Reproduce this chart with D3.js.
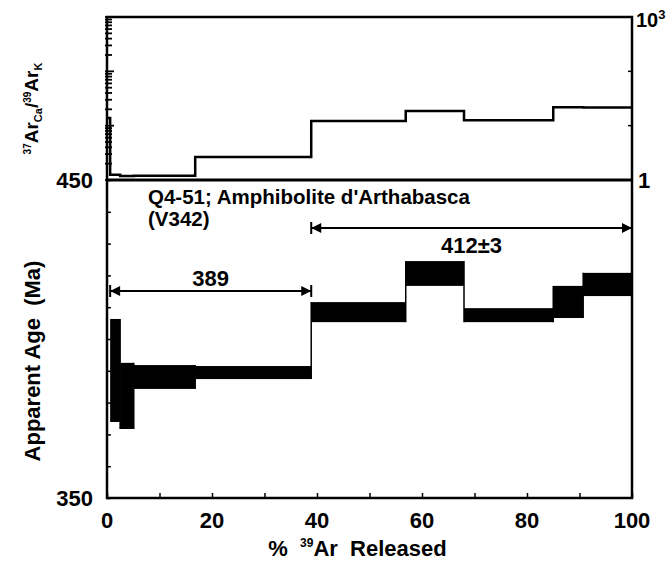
<!DOCTYPE html>
<html>
<head>
<meta charset="utf-8">
<script src="https://cdn.jsdelivr.net/npm/d3@7"></script>
<style>
body { margin:0; background:#fff; }
text { font-family: "Liberation Sans", Arial, sans-serif; font-weight: bold; fill:#000; }
</style>
</head>
<body>
<div id="chart"></div>
<script>
// step boundaries, % 39Ar released
var stepEdges = [0, 0.6, 2.5, 5.1, 16.8, 38.9, 56.9, 68, 85, 90.7, 100];
// 37ArCa/39ArK per step
var caK = [13.8, 1.25, 1.18, 1.2, 2.65, 12.2, 18.7, 12.6, 21.8, 21.6];
// apparent age boxes (Ma), low / high; first step off scale
var ageLo = [null, 373.9, 371.7, 384.3, 387.4, 405.3, 416.7, 405.3, 406.6, 413.5];
var ageHi = [null, 406.3, 392.5, 391.8, 391.5, 411.6, 424.5, 409.7, 416.7, 420.8];
var xTicks = [0, 20, 40, 60, 80, 100];
var plateaus = [
    {from: 0.6, to: 38.9, label: '389'},
    {from: 38.9, to: 100, label: '412\u00b13'}
];

var svgSize = {width: 672, height: 570};
var left = 107, right = 632, top1 = 17, mid = 180, bottom = 498;

var svg = d3.select('#chart').append('svg')
    .attr('width', svgSize.width)
    .attr('height', svgSize.height);

var x = d3.scaleLinear().domain([0, 100]).range([left, right]);
var yAge = d3.scaleLinear().domain([350, 450]).range([bottom, mid]);
var yRat = d3.scaleLog().domain([1, 1000]).range([mid, top1]);

// --- top panel: Ca/K step line
var steps = [];
caK.forEach(function(v, i) {
    steps.push([stepEdges[i], v]);
    steps.push([stepEdges[i + 1], v]);
});
svg.append('path')
    .datum(steps)
    .attr('fill', 'none')
    .attr('stroke', '#000')
    .attr('stroke-width', 2.5)
    .attr('d', d3.line().x(function(d) { return x(d[0]); }).y(function(d) { return yRat(d[1]); }));

// --- bottom panel: age boxes
var boxes = [];
ageLo.forEach(function(lo, i) {
    if (lo != null) boxes.push({x0: stepEdges[i], x1: stepEdges[i + 1], lo: lo, hi: ageHi[i]});
});
svg.append('g').selectAll('rect')
    .data(boxes)
    .enter()
    .append('rect')
    .attr('x', function(d) { return x(d.x0); })
    .attr('width', function(d) { return x(d.x1) - x(d.x0); })
    .attr('y', function(d) { return yAge(d.hi); })
    .attr('height', function(d) { return yAge(d.lo) - yAge(d.hi); })
    .attr('fill', '#000');

// connectors between boxes
for (var i = 0; i < boxes.length - 1; i++) {
    var a = boxes[i], b = boxes[i + 1];
    var ys = [a.lo, a.hi, b.lo, b.hi];
    svg.append('line')
        .attr('x1', x(b.x0)).attr('x2', x(b.x0))
        .attr('y1', yAge(d3.min(ys))).attr('y2', yAge(d3.max(ys)))
        .attr('stroke', '#000').attr('stroke-width', 1.5);
}

// --- frames
svg.append('rect')
    .attr('x', left).attr('y', top1)
    .attr('width', right - left).attr('height', bottom - top1)
    .attr('fill', 'none').attr('stroke', '#000').attr('stroke-width', 2.5);
svg.append('line')
    .attr('x1', left).attr('x2', right)
    .attr('y1', mid).attr('y2', mid)
    .attr('stroke', '#000').attr('stroke-width', 3);

// --- axes
var gx = svg.append('g').attr('transform', 'translate(0,' + bottom + ')')
    .call(d3.axisTop(x).tickValues(d3.range(0, 101, 10)).tickSize(5).tickFormat(''));
gx.select('.domain').remove();
gx.selectAll('line').attr('stroke-width', 1.5);
xTicks.forEach(function(t) {
    svg.append('text')
        .attr('x', x(t)).attr('y', bottom + 30)
        .attr('text-anchor', 'middle')
        .style('font-size', '22px')
        .text(t);
});

var gy = svg.append('g').attr('transform', 'translate(' + left + ',0)')
    .call(d3.axisLeft(yAge).tickValues(d3.range(350, 451, 10)).tickSizeInner(4).tickSizeOuter(0).tickFormat(''));
gy.select('.domain').remove();
gy.selectAll('line').attr('x2', 4).attr('stroke-width', 1.5);
[350, 450].forEach(function(t) {
    svg.append('text')
        .attr('x', left - 14).attr('y', yAge(t) + 8)
        .attr('text-anchor', 'end')
        .style('font-size', '22px')
        .text(t);
});

// log minor ticks, left of top panel
var logTicks = yRat.ticks();
svg.append('g').selectAll('line')
    .data(logTicks)
    .enter()
    .append('line')
    .attr('x1', left - 2)
    .attr('x2', function(d) { return Math.log10(d) % 1 === 0 ? left + 7 : left + 5; })
    .attr('y1', function(d) { return yRat(d); })
    .attr('y2', function(d) { return yRat(d); })
    .attr('stroke', '#000').attr('stroke-width', 1.8);

// right axis of top panel
svg.append('g').selectAll('line')
    .data([1, 10, 100, 1000])
    .enter()
    .append('line')
    .attr('x1', right).attr('x2', right - 4)
    .attr('y1', function(d) { return yRat(d); })
    .attr('y2', function(d) { return yRat(d); })
    .attr('stroke', '#000').attr('stroke-width', 1.5);
svg.append('text')
    .attr('x', right + 6).attr('y', yRat(1) + 8)
    .style('font-size', '22px')
    .text('1');
var t3 = svg.append('text')
    .attr('x', right + 4).attr('y', yRat(1000) + 10)
    .style('font-size', '20px');
t3.append('tspan').text('10');
t3.append('tspan').attr('dy', -8).style('font-size', '13px').text('3');

// --- axis titles
var yl1 = svg.append('text')
    .attr('transform', 'translate(38,' + ((top1 + mid) / 2 + 10) + ') rotate(-90)')
    .attr('text-anchor', 'middle')
    .style('font-size', '19px');
yl1.append('tspan').attr('dy', -7).style('font-size', '10px').text('37');
yl1.append('tspan').attr('dy', 7).text('Ar');
yl1.append('tspan').attr('dy', 4).style('font-size', '11px').text('Ca');
yl1.append('tspan').attr('dy', -4).text('/');
yl1.append('tspan').attr('dy', -7).style('font-size', '10px').text('39');
yl1.append('tspan').attr('dy', 7).text('Ar');
yl1.append('tspan').attr('dy', 4).style('font-size', '11px').text('K');

svg.append('text')
    .attr('transform', 'translate(40,' + ((mid + bottom) / 2 + 22) + ') rotate(-90)')
    .attr('text-anchor', 'middle')
    .style('font-size', '22px')
    .style('white-space', 'pre')
    .text('Apparent Age  (Ma)');

var xl = svg.append('text')
    .attr('x', (left + right) / 2 - 12).attr('y', bottom + 58)
    .attr('text-anchor', 'middle')
    .style('font-size', '22px')
    .style('white-space', 'pre');
xl.append('tspan').text('%  ');
xl.append('tspan').attr('dy', -9).style('font-size', '12px').text('39');
xl.append('tspan').attr('dy', 9).text('Ar  Released');

// --- sample name
svg.append('text').attr('x', 148).attr('y', 204).style('font-size', '20.5px')
    .text("Q4-51; Amphibolite d'Arthabasca");
svg.append('text').attr('x', 148).attr('y', 226).style('font-size', '20.5px')
    .text('(V342)');

// --- plateau arrows
var py = [291, 228];
var ly = [286, 253];
plateaus.forEach(function(p, i) {
    var g = svg.append('g');
    var x0 = x(p.from), x1 = x(p.to), yy = py[i];
    g.append('line').attr('x1', x0).attr('x2', x1).attr('y1', yy).attr('y2', yy)
        .attr('stroke', '#000').attr('stroke-width', 2);
    [[x0, 1], [x1, -1]].forEach(function(e) {
        g.append('line').attr('x1', e[0]).attr('x2', e[0]).attr('y1', yy - 6).attr('y2', yy + 6)
            .attr('stroke', '#000').attr('stroke-width', 2);
        g.append('path')
            .attr('d', 'M' + e[0] + ',' + yy + 'L' + (e[0] + e[1] * 10) + ',' + (yy - 5) + 'L' + (e[0] + e[1] * 10) + ',' + (yy + 5) + 'Z')
            .attr('fill', '#000');
    });
    g.append('text').attr('x', (x0 + x1) / 2).attr('y', ly[i])
        .attr('text-anchor', 'middle').style('font-size', '22px')
        .text(p.label);
});
</script>
</body>
</html>
